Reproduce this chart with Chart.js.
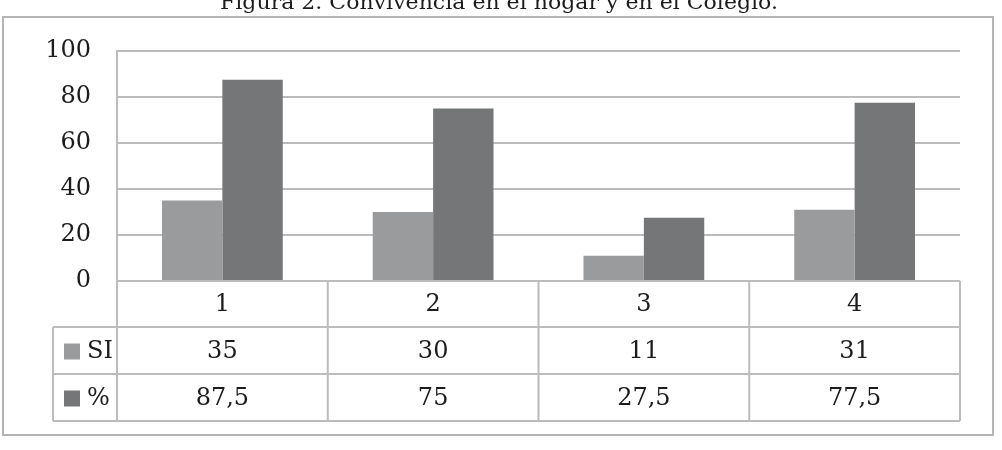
<!DOCTYPE html>
<html>
<head>
<meta charset="utf-8">
<script src="https://cdn.jsdelivr.net/npm/chart.js@4/dist/chart.umd.min.js"></script>
<style>
    html, body { margin: 0; padding: 0; background: #fff; }
    #wrap { width: 1002px; height: 450px; position: relative; }
</style>
</head>
<body>
<div id="wrap"><canvas id="chart" width="1002" height="450"></canvas></div>
<script>
const TITLE = 'Figura 2. Convivencia en el hogar y en el Colegio.';
const categories = ['1', '2', '3', '4'];
const seriesNames = ['SI', '%'];
const siValues = [35, 30, 11, 31];
const pctValues = [87.5, 75, 27.5, 77.5];
const tableLabels = [['35', '30', '11', '31'], ['87,5', '75', '27,5', '77,5']];
const yTicks = [0, 20, 40, 60, 80, 100];

const COLORS = ['#9a9b9c', '#757677'];
const LINE = '#bcbcbc';
const TEXT = '#1c1c1c';
const FONT = 'DejaVu Serif';

// Frame, title and the data table under the plot
const tablePlugin = {
    id: 'tablePlugin',
    beforeDraw(chart) {
        const ctx = chart.ctx;
        ctx.save();
        ctx.fillStyle = '#fff';
        ctx.fillRect(0, 0, chart.width, chart.height);
        ctx.restore();
    },
    afterDraw(chart) {
        const ctx = chart.ctx;
        const x = chart.scales.x;
        const area = chart.chartArea;
        const colW = x.width / categories.length;
        const legendLeft = 53;
        const rows = [area.bottom, area.bottom + 46, area.bottom + 93, area.bottom + 140];

        ctx.save();
        // outer frame
        ctx.strokeStyle = '#b4b4b4';
        ctx.lineWidth = 2;
        ctx.strokeRect(3, 17, 990, 418);

        // title, squeezed to the width it has in the source
        ctx.fillStyle = TEXT;
        ctx.font = '21px "' + FONT + '"';
        ctx.textAlign = 'left';
        ctx.textBaseline = 'alphabetic';
        const tw = ctx.measureText(TITLE).width;
        ctx.save();
        ctx.translate(220, 9);
        ctx.scale(558 / tw, 1);
        ctx.fillText(TITLE, 0, 0);
        ctx.restore();

        // table lines
        ctx.strokeStyle = LINE;
        ctx.lineWidth = 2;
        ctx.beginPath();
        for (let r = 1; r < rows.length; r++) {
            ctx.moveTo(legendLeft, rows[r]);
            ctx.lineTo(area.right, rows[r]);
        }
        for (let i = 0; i <= categories.length; i++) {
            const px = area.left + i * colW;
            ctx.moveTo(px, rows[0]);
            ctx.lineTo(px, rows[3]);
        }
        ctx.moveTo(legendLeft, rows[1]);
        ctx.lineTo(legendLeft, rows[3]);
        ctx.stroke();

        // texts
        ctx.font = '24px "' + FONT + '"';
        ctx.textAlign = 'center';
        ctx.textBaseline = 'middle';
        ctx.fillStyle = TEXT;
        categories.forEach((c, i) => {
            ctx.fillText(c, x.getPixelForValue(i), (rows[0] + rows[1]) / 2 + 1);
        });
        tableLabels.forEach((row, r) => {
            const cy = (rows[r + 1] + rows[r + 2]) / 2 + 1;
            row.forEach((t, i) => ctx.fillText(t, x.getPixelForValue(i), cy));
            // legend key
            ctx.fillStyle = COLORS[r];
            ctx.fillRect(64, cy - 8, 16, 16);
            ctx.fillStyle = TEXT;
            ctx.textAlign = 'left';
            ctx.fillText(seriesNames[r], 87, cy);
            ctx.textAlign = 'center';
        });
        ctx.restore();
    }
};

new Chart(document.getElementById('chart'), {
    type: 'bar',
    data: {
        labels: categories,
        datasets: [
            { label: seriesNames[0], data: siValues, backgroundColor: COLORS[0] },
            { label: seriesNames[1], data: pctValues, backgroundColor: COLORS[1] }
        ]
    },
    options: {
        responsive: false,
        animation: false,
        devicePixelRatio: 1,
        categoryPercentage: 0.573,
        barPercentage: 1.0,
        layout: { padding: { left: 0, right: 42, top: 51, bottom: 169 } },
        plugins: {
            legend: { display: false },
            title: { display: false },
            tooltip: { enabled: false }
        },
        scales: {
            x: { display: false },
            y: {
                min: 0,
                max: 100,
                afterFit: (scale) => { scale.width = 117; },
                afterBuildTicks: (scale) => { scale.ticks = yTicks.map(v => ({ value: v })); },
                grid: { color: LINE, lineWidth: 2, drawTicks: false },
                border: { display: true, color: LINE, width: 2 },
                ticks: {
                    padding: 26,
                    color: TEXT,
                    font: { family: FONT, size: 24 }
                }
            }
        }
    },
    plugins: [tablePlugin]
});
</script>
</body>
</html>
